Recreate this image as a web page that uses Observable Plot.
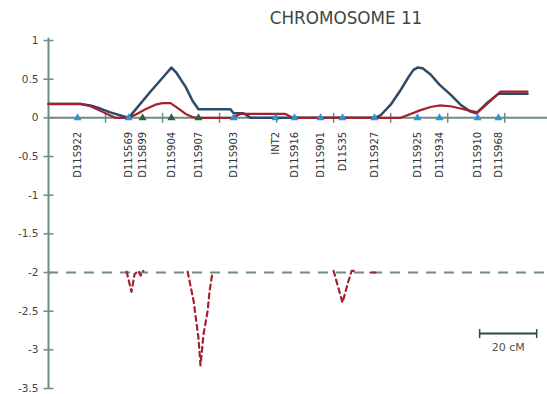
<!DOCTYPE html>
<html><head><meta charset="utf-8">
<script src="https://cdn.jsdelivr.net/npm/d3@7"></script>
<script src="https://cdn.jsdelivr.net/npm/@observablehq/plot@0.6"></script>
<style>
body{margin:0;background:#fff;font-family:"DejaVu Sans",sans-serif;}
#title{height:30px;box-sizing:border-box;padding-top:6px;line-height:24px;padding-left:145px;width:547px;text-align:center;font-size:16.8px;color:#3a4846;}
</style></head><body>
<div id="title">CHROMOSOME 11</div>
<div id="chart"></div>
<script>
// ---- data ----
const markerNames = ["D11S922","D11S569","D11S899","D11S904","D11S907","D11S903","INT2","D11S916","D11S901","D11S35","D11S927","D11S925","D11S934","D11S910","D11S968"];
const markerCM    = [10.2, 28.1, 33.0, 43.1, 52.6, 64.9, 79.6, 86.3, 95.4, 103.1, 114.3, 129.4, 137.1, 150.5, 157.8];
const markerGroup = ["A","A","B","B","B","A","A","A","A","A","A","A","A","A","A"];

const blueCM  = [0, 11.2, 14.7, 18.2, 21.7, 25.3, 28.1, 35.8, 41.0, 43.1, 44.9, 48.1, 50.5, 52.6, 63.8, 64.9, 68.4, 70.9, 114.3, 116.4, 120.0, 123.5, 126.3, 128.0, 129.4, 131.2, 134.0, 137.1, 141.0, 144.5, 148.0, 150.1, 154.0, 157.8, 168.0];
const blueLod = [0.18, 0.18, 0.16, 0.12, 0.07, 0.03, 0, 0.34, 0.56, 0.65, 0.58, 0.40, 0.22, 0.11, 0.11, 0.06, 0.06, 0, 0, 0.03, 0.17, 0.36, 0.53, 0.62, 0.65, 0.64, 0.56, 0.43, 0.30, 0.17, 0.08, 0.06, 0.20, 0.31, 0.31];

const redCM  = [0, 11.2, 14.7, 18.2, 21.7, 23.5, 28.1, 30.5, 34.0, 37.5, 40.0, 42.8, 45.6, 48.1, 50.5, 52.3, 64.5, 67.3, 83.1, 85.6, 123.5, 127.0, 130.5, 134.0, 137.1, 141.0, 144.5, 148.0, 150.5, 155.0, 158.5, 168.0];
const redLod = [0.18, 0.18, 0.15, 0.09, 0.03, 0, 0, 0.04, 0.11, 0.17, 0.19, 0.19, 0.12, 0.05, 0.01, 0, 0, 0.05, 0.05, 0, 0, 0.05, 0.10, 0.14, 0.16, 0.15, 0.12, 0.09, 0.07, 0.22, 0.34, 0.34];

const exclSeg = [1,1,1,1,1,1, 2,2,2,2,2,2,2,2, 3,3,3,3,3, 4,4];
const exclCM  = [27.4, 29.1, 30.2, 31.6, 32.3, 33.3, 48.8, 50.9, 52.6, 53.3, 54.4, 55.8, 56.5, 57.5, 100.0, 103.1, 105.2, 106.3, 108.4, 112.9, 115.0];
const exclLod = [-1.99, -2.25, -2.02, -1.98, -2.04, -1.98, -1.99, -2.37, -2.85, -3.2, -2.79, -2.5, -2.24, -2.0, -1.98, -2.39, -2.11, -1.98, -1.98, -2.0, -2.0];

const yTicks = [1, 0.5, 0, -0.5, -1, -1.5, -2, -2.5, -3, -3.5];
const xTicks = [20, 40, 60, 80, 100, 120, 140, 160];
const threshold = -2;
const scaleBar = {start: 151.2, length: 20, y: -2.79, label: "20 cM"};

// ---- build ----
const markers = markerNames.map((n, i) => ({name: n, cM: markerCM[i], group: markerGroup[i]}));
const blue = blueCM.map((c, i) => ({cM: c, lod: blueLod[i]}));
const red = redCM.map((c, i) => ({cM: c, lod: redLod[i]}));
const excl = exclCM.map((c, i) => ({cM: c, lod: exclLod[i], seg: exclSeg[i]}));

const axisColor = "#6f8c82";
const vtick = {draw(ctx, size) { const h = Math.sqrt(size / Math.PI); ctx.moveTo(0, -h); ctx.lineTo(0, h); }};
const htick = {draw(ctx, size) { const h = Math.sqrt(size / Math.PI); ctx.moveTo(-h, 0); ctx.lineTo(h, 0); }};

const chart = Plot.plot({
  width: 547,
  height: 364,
  marginLeft: 48,
  marginRight: 0,
  marginTop: 10,
  marginBottom: 6,
  style: {fontFamily: "DejaVu Sans, sans-serif", background: "#fff"},
  x: {domain: [0, 175], axis: null},
  y: {domain: [-3.5, 1], axis: null},
  color: {domain: ["A", "B"], range: ["#2f94d4", "#23663c"]},
  marks: [
    Plot.ruleY([threshold], {stroke: axisColor, strokeWidth: 2, strokeDasharray: "10,8"}),
    Plot.ruleX([0], {y1: -3.5, y2: 1.03, stroke: axisColor, strokeWidth: 2}),
    Plot.ruleY([0], {stroke: axisColor, strokeWidth: 2}),
    Plot.dot(yTicks, {x: 0, y: d => d, symbol: htick, r: 5, stroke: axisColor, strokeWidth: 1.5, fill: "none"}),
    Plot.dot(xTicks, {x: d => d, y: 0, symbol: vtick, r: 5, stroke: axisColor, strokeWidth: 1.5, fill: "none"}),
    Plot.axisY(yTicks, {tickSize: 0, tickPadding: 10, tickFormat: d => String(d), fontSize: 10.5, fill: "#444"}),
    Plot.line(blue, {x: "cM", y: "lod", stroke: "#2d4a66", strokeWidth: 2.5, curve: "linear"}),
    Plot.line(red, {x: "cM", y: "lod", stroke: "#a3202f", strokeWidth: 2.2, curve: "linear"}),
    Plot.line(excl, {x: "cM", y: "lod", z: "seg", stroke: "#a3202f", strokeWidth: 2.2, strokeDasharray: "5,4"}),
    Plot.dot(markers, {x: "cM", y: 0, symbol: "triangle", r: 3, fill: "group", stroke: "none"}),
    Plot.text(markers, {x: "cM", y: 0, text: "name", rotate: -90, textAnchor: "end", dy: 14, fontSize: 10, fill: "#2e3634"}),
    Plot.ruleY([scaleBar], {x1: d => d.start, x2: d => d.start + d.length, y: "y", stroke: "#2f4744", strokeWidth: 2}),
    Plot.dot([scaleBar.start, scaleBar.start + scaleBar.length], {x: d => d, y: scaleBar.y, symbol: vtick, r: 4.5, stroke: "#2f4744", strokeWidth: 1.5, fill: "none"}),
    Plot.text([scaleBar], {x: d => d.start + d.length / 2, y: "y", text: "label", dy: 14, fontSize: 11, fill: "#4a5552"})
  ]
});
document.getElementById("chart").appendChild(chart);
</script></body></html>
